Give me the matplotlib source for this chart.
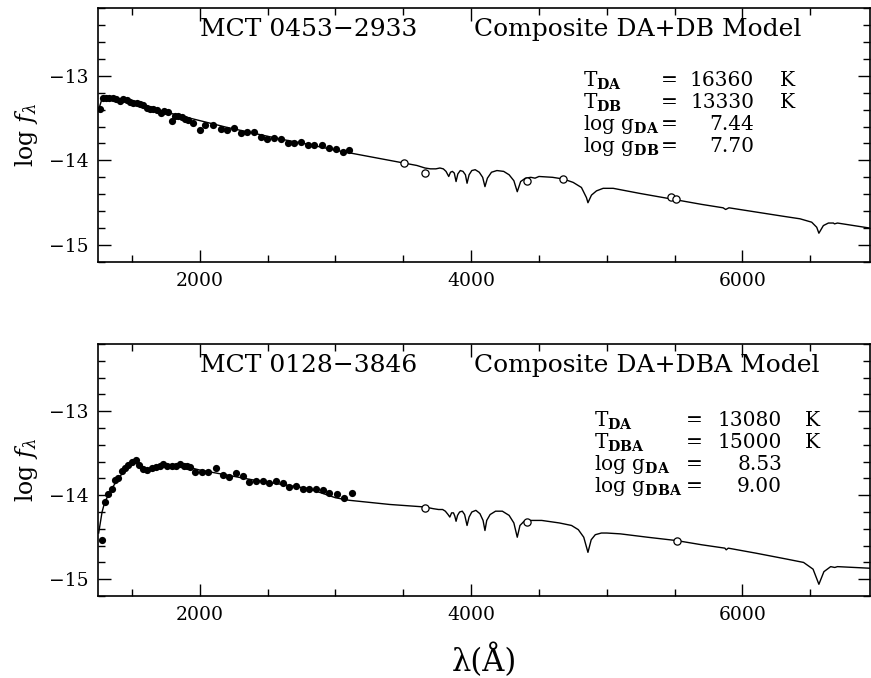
import numpy as np
import matplotlib
matplotlib.use("Agg")
import matplotlib.pyplot as plt

# ── Data ──────────────────────────────────────────────────────────────────────

# MCT 0453-2933: UV spectrum points (filled) and optical photometry (open)
top_uv_wl = [1265, 1284, 1309, 1334, 1358, 1383, 1412, 1437, 1461, 1486, 1510,
             1535, 1560, 1584, 1609, 1633, 1658, 1682, 1712, 1736, 1768, 1793,
             1817, 1842, 1867, 1891, 1916, 1953, 2002, 2039, 2100, 2154, 2198,
             2252, 2301, 2351, 2400, 2449, 2498, 2547, 2596, 2653, 2695, 2744,
             2800, 2842, 2898, 2955, 3004, 3053, 3102]
top_uv_f = [-13.39, -13.26, -13.26, -13.26, -13.26, -13.27, -13.30, -13.28,
            -13.29, -13.31, -13.32, -13.32, -13.33, -13.35, -13.38, -13.39,
            -13.39, -13.41, -13.44, -13.42, -13.43, -13.53, -13.47, -13.48,
            -13.49, -13.51, -13.52, -13.56, -13.64, -13.58, -13.58, -13.63,
            -13.64, -13.62, -13.68, -13.67, -13.67, -13.72, -13.75, -13.73,
            -13.75, -13.79, -13.79, -13.78, -13.82, -13.82, -13.82, -13.85,
            -13.86, -13.90, -13.88]
top_opt_wl = [3507, 3660, 4409, 4680, 5473, 5508]
top_opt_f = [-14.03, -14.15, -14.24, -14.22, -14.43, -14.46]

# composite DA+DB model spectrum
top_mod_wl = [1255, 1280, 1300, 1400, 1600, 1800, 2000, 2200, 2400, 2600, 2800,
              3000, 3200, 3400, 3600, 3660, 3700, 3740, 3770, 3795, 3815, 3835,
              3848, 3862, 3876, 3889, 3902, 3920, 3940, 3958, 3970, 3985, 4005,
              4030, 4060, 4085, 4102, 4120, 4150, 4190, 4240, 4280, 4315, 4340,
              4365, 4400, 4440, 4471, 4500, 4600, 4680, 4752, 4813, 4850, 4861,
              4887, 4924, 4973, 5047, 5243, 5490, 5700, 5857, 5876, 5900, 6100,
              6300, 6424, 6510, 6547, 6563, 6596, 6633, 6670, 6678, 6700, 6940]
top_mod_f = [-13.40, -13.27, -13.255, -13.28, -13.36, -13.45, -13.53, -13.61,
             -13.68, -13.75, -13.81, -13.88, -13.94, -14.00, -14.06, -14.09,
             -14.10, -14.10, -14.09, -14.10, -14.13, -14.19, -14.14, -14.13,
             -14.15, -14.25, -14.16, -14.12, -14.13, -14.17, -14.27, -14.17,
             -14.12, -14.11, -14.14, -14.20, -14.31, -14.21, -14.14, -14.12,
             -14.13, -14.17, -14.24, -14.37, -14.25, -14.21, -14.20, -14.21,
             -14.19, -14.20, -14.22, -14.26, -14.32, -14.44, -14.50, -14.41,
             -14.36, -14.33, -14.33, -14.39, -14.46, -14.52, -14.56, -14.58,
             -14.56, -14.61, -14.66, -14.69, -14.73, -14.79, -14.86, -14.77,
             -14.74, -14.74, -14.75, -14.74, -14.80]

# MCT 0128-3846
bot_uv_wl = [1277, 1302, 1326, 1351, 1375, 1400, 1425, 1449, 1473, 1498, 1530,
             1554, 1584, 1613, 1646, 1677, 1707, 1731, 1761, 1793, 1825, 1854,
             1884, 1908, 1928, 1965, 2014, 2063, 2120, 2169, 2218, 2267, 2317,
             2366, 2415, 2464, 2513, 2562, 2611, 2660, 2709, 2759, 2808, 2857,
             2906, 2955, 3009, 3063, 3120]
bot_uv_f = [-14.53, -14.08, -13.99, -13.93, -13.82, -13.80, -13.71, -13.68,
            -13.64, -13.60, -13.58, -13.64, -13.69, -13.70, -13.68, -13.66,
            -13.65, -13.63, -13.65, -13.65, -13.65, -13.63, -13.65, -13.65,
            -13.66, -13.72, -13.72, -13.72, -13.68, -13.76, -13.78, -13.74,
            -13.77, -13.84, -13.83, -13.83, -13.85, -13.83, -13.85, -13.90,
            -13.89, -13.92, -13.93, -13.93, -13.94, -13.97, -13.99, -14.03,
            -13.97]
bot_opt_wl = [3660, 4409, 5515]
bot_opt_f = [-14.15, -14.32, -14.54]

# composite DA+DBA model spectrum
bot_mod_wl = [1255, 1280, 1300, 1330, 1360, 1400, 1450, 1500, 1530, 1560, 1600,
              1650, 1700, 1800, 1900, 2000, 2200, 2400, 2600, 2800, 3000, 3100,
              3400, 3660, 3720, 3760, 3790, 3810, 3830, 3843, 3856, 3870, 3880,
              3889, 3900, 3915, 3935, 3952, 3970, 3985, 4005, 4035, 4065, 4088,
              4102, 4115, 4140, 4180, 4230, 4280, 4315, 4340, 4360, 4390, 4440,
              4520, 4650, 4740, 4790, 4830, 4861, 4885, 4915, 4960, 5000, 5100,
              5300, 5515, 5700, 5870, 5880, 5895, 6100, 6325, 6450, 6520, 6563,
              6600, 6650, 6680, 6700, 6950]
bot_mod_f = [-14.45, -14.20, -14.08, -13.99, -13.90, -13.80, -13.70, -13.62,
             -13.59, -13.63, -13.69, -13.69, -13.66, -13.65, -13.66, -13.70,
             -13.76, -13.82, -13.87, -13.92, -14.03, -14.06, -14.11, -14.14,
             -14.16, -14.17, -14.17, -14.19, -14.23, -14.26, -14.21, -14.21,
             -14.25, -14.31, -14.24, -14.20, -14.19, -14.23, -14.36, -14.26,
             -14.20, -14.18, -14.22, -14.30, -14.42, -14.30, -14.23, -14.19,
             -14.19, -14.24, -14.33, -14.50, -14.36, -14.31, -14.30, -14.30,
             -14.33, -14.36, -14.41, -14.50, -14.68, -14.53, -14.47, -14.45,
             -14.45, -14.46, -14.50, -14.54, -14.59, -14.63, -14.65, -14.63,
             -14.69, -14.76, -14.80, -14.88, -15.06, -14.91, -14.85, -14.86,
             -14.85, -14.87]

top_title = ["MCT 0453\u22122933", "Composite DA+DB Model"]
bot_title = ["MCT 0128\u22123846", "Composite DA+DBA Model"]
top_params = [(r"T$_{\mathbf{DA}}$", "16360", "K"),
              (r"T$_{\mathbf{DB}}$", "13330", "K"),
              (r"log $\mathrm{g}_{\mathbf{DA}}$", "7.44", ""),
              (r"log $\mathrm{g}_{\mathbf{DB}}$", "7.70", "")]
bot_params = [(r"T$_{\mathbf{DA}}$", "13080", "K"),
              (r"T$_{\mathbf{DBA}}$", "15000", "K"),
              (r"log $\mathrm{g}_{\mathbf{DA}}$", "8.53", ""),
              (r"log $\mathrm{g}_{\mathbf{DBA}}$", "9.00", "")]

# ── Style ─────────────────────────────────────────────────────────────────────

plt.rcParams["font.family"] = "DejaVu Serif"
plt.rcParams["mathtext.fontset"] = "dejavuserif"

XLIM = (1250, 6940)
YLIM = (-15.2, -12.2)


def style_axes(ax):
    ax.set_xlim(*XLIM)
    ax.set_ylim(*YLIM)
    ax.set_xticks([2000, 4000, 6000])
    ax.set_xticks(np.arange(1500, 7000, 500), minor=True)
    ax.set_yticks([-15, -14, -13])
    ax.set_yticks(np.arange(-15.2, -12.19, 0.2), minor=True)
    ax.tick_params(which="both", direction="in", top=True, right=True,
                   width=1.0, labelsize=13.5, pad=7)
    ax.tick_params(which="major", length=9)
    ax.tick_params(which="minor", length=5)
    for sp in ax.spines.values():
        sp.set_linewidth(1.2)
    ax.set_ylabel(r"log $f_{\lambda}$", fontsize=17, labelpad=6)


def draw_panel(ax, uv_wl, uv_f, opt_wl, opt_f, mod_wl, mod_f,
               title, params, rows, px0, pxe, pxv, pxk):
    ax.plot(mod_wl, mod_f, color="black", lw=1.0, zorder=2)
    ax.plot(uv_wl, uv_f, "o", color="black", ms=5.2, mew=0, zorder=3)
    ax.plot(opt_wl, opt_f, "o", mfc="white", mec="black", ms=5.2,
            mew=0.9, zorder=3)
    style_axes(ax)
    ax.text(0.132, 0.915, title[0], transform=ax.transAxes, fontsize=18,
            va="center", ha="left")
    ax.text(0.487, 0.915, title[1], transform=ax.transAxes, fontsize=18,
            va="center", ha="left")
    for (lab, val, unit), y in zip(params, rows):
        ax.text(px0, y, lab, transform=ax.transAxes, fontsize=14.5,
                va="center", ha="left")
        ax.text(pxe, y, "=", transform=ax.transAxes, fontsize=14.5,
                va="center", ha="center")
        ax.text(pxv, y, val, transform=ax.transAxes, fontsize=14.5,
                va="center", ha="right")
        if unit:
            ax.text(pxk, y, unit, transform=ax.transAxes, fontsize=14.5,
                    va="center", ha="left")


fig = plt.figure(figsize=(8.71, 6.78), dpi=100)
ax1 = fig.add_axes([0.1125, 0.6136, 0.8864, 0.3746])
ax2 = fig.add_axes([0.1125, 0.1209, 0.8864, 0.3717])

draw_panel(ax1, top_uv_wl, top_uv_f, top_opt_wl, top_opt_f,
           top_mod_wl, top_mod_f, top_title, top_params,
           [0.715, 0.628, 0.540, 0.453], 0.628, 0.740, 0.850, 0.883)
draw_panel(ax2, bot_uv_wl, bot_uv_f, bot_opt_wl, bot_opt_f,
           bot_mod_wl, bot_mod_f, bot_title, bot_params,
           [0.695, 0.608, 0.520, 0.433], 0.643, 0.772, 0.886, 0.915)

ax2.set_xlabel("\u03bb(\u00c5)", fontsize=22, labelpad=14)

fig.savefig("out.png", dpi=100)
